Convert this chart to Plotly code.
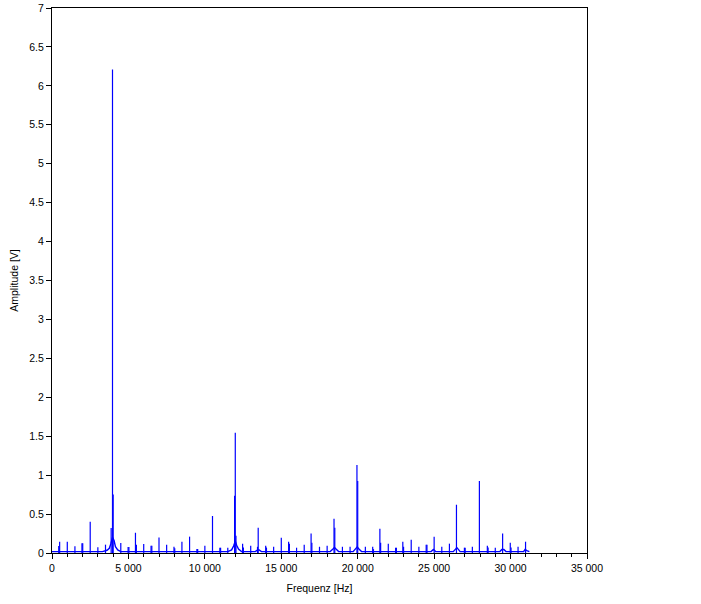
import plotly.graph_objects as go

# Spectral lines (peak frequency in Hz, peak amplitude in V)
peak_freq = [440, 500, 1000, 1500, 1960, 2010, 2500, 3000, 3500,
             3870, 3958, 4002, 4500, 4980, 5030, 5460, 5520, 6000, 6480, 6530,
             7000, 7500, 7980, 8030, 8500, 9000, 9480, 9530, 10000, 10500,
             10980, 11030, 11500, 11944, 11990, 12035, 12470, 12520, 13000,
             13445, 13490, 13980, 14030, 14500, 15000, 15480, 15530, 16000,
             16500, 16950, 17000, 17500, 18000, 18450, 18500, 19000, 19500,
             19950, 20000, 20500, 20980, 21030, 21450, 21500, 22000, 22480,
             22530, 22950, 23000, 23500, 24000, 24480, 24530, 25000, 25500,
             26000, 26460, 26980, 27030, 27500, 27960, 28480, 28530, 29000,
             29480, 29980, 30030, 30490, 30980]
peak_amp = [0.09, 0.145, 0.145, 0.086, 0.125, 0.125, 0.40, 0.073, 0.107,
            0.32, 6.21, 0.75, 0.13, 0.077, 0.077, 0.26, 0.107, 0.116, 0.094, 0.094,
            0.20, 0.107, 0.08, 0.06, 0.145, 0.21, 0.05, 0.05, 0.094, 0.475,
            0.068, 0.068, 0.068, 0.735, 1.545, 0.22, 0.12, 0.07, 0.094,
            0.08, 0.325, 0.094, 0.07, 0.08, 0.197, 0.145, 0.12, 0.068,
            0.107, 0.25, 0.133, 0.08, 0.094, 0.44, 0.325, 0.08, 0.08,
            1.13, 0.925, 0.08, 0.08, 0.05, 0.31, 0.133, 0.12, 0.068,
            0.068, 0.145, 0.08, 0.17, 0.08, 0.107, 0.107, 0.21, 0.08,
            0.12, 0.62, 0.068, 0.068, 0.08, 0.925, 0.094, 0.07, 0.068,
            0.25, 0.133, 0.07, 0.08, 0.145]

# Noise floor / broadening around the strong lines
base_freq = [0, 3300, 3600, 3750, 3850, 3958, 4060, 4150, 4300, 4500,
             11500, 11750, 11880, 11990, 12080, 12200, 12400,
             13300, 13450, 13550, 13700,
             18200, 18380, 18480, 18580, 18750,
             19700, 19850, 19970, 20080, 20250,
             24800, 24950, 25100,
             26250, 26400, 26480, 26570, 26700,
             29300, 29430, 29560, 29700,
             30850, 30950, 31060, 31230]
base_amp = [0.018, 0.018, 0.035, 0.06, 0.12, 0.2, 0.16, 0.08, 0.04, 0.018,
            0.018, 0.04, 0.09, 0.15, 0.1, 0.05, 0.018,
            0.018, 0.04, 0.04, 0.018,
            0.018, 0.05, 0.07, 0.05, 0.018,
            0.018, 0.05, 0.08, 0.05, 0.018,
            0.018, 0.045, 0.018,
            0.018, 0.05, 0.07, 0.05, 0.018,
            0.018, 0.045, 0.045, 0.018,
            0.018, 0.045, 0.03, 0.018]

x_tick_vals = [0, 5000, 10000, 15000, 20000, 25000, 30000, 35000]
x_tick_text = ["0", "5 000", "10 000", "15 000", "20 000", "25 000", "30 000", "35 000"]

BLUE = "#0000ff"
FONT = "Liberation Sans, Arial, sans-serif"

stem_x, stem_y = [], []
for f, a in zip(peak_freq, peak_amp):
    stem_x += [f, f, None]
    stem_y += [0, a, None]

fig = go.Figure()
fig.add_trace(go.Scatter(x=base_freq, y=base_amp, mode="lines",
                         line=dict(color=BLUE, width=1.4), hoverinfo="skip",
                         showlegend=False))
fig.add_trace(go.Scatter(x=stem_x, y=stem_y, mode="lines",
                         line=dict(color=BLUE, width=1.2), hoverinfo="skip",
                         showlegend=False))

axis_common = dict(showline=True, linecolor="black", linewidth=1, mirror=True,
                   showgrid=False, zeroline=False, ticks="outside",
                   tickcolor="black", tickwidth=1, automargin=False,
                   tickfont=dict(family=FONT, size=10.5, color="black"))

fig.update_layout(
    width=701, height=604,
    margin=dict(l=52, r=114, t=8, b=51),
    paper_bgcolor="white", plot_bgcolor="white",
    font=dict(family=FONT, size=10.5, color="black"),
    xaxis=dict(range=[0, 35000], tickvals=x_tick_vals, ticktext=x_tick_text,
               ticklen=5,
               minor=dict(dtick=1000, ticks="outside", ticklen=3,
                          tickcolor="black", showgrid=False),
               title=dict(text="Frequenz [Hz]", standoff=12,
                          font=dict(family=FONT, size=10.5)),
               **axis_common),
    yaxis=dict(range=[0, 7], dtick=0.5, ticklen=5,
               title=dict(text="Amplitude [V]", standoff=8,
                          font=dict(family=FONT, size=10.5)),
               **axis_common),
)

fig.write_html("out.html", config={"displayModeBar": False},
               post_script="document.body.style.margin='0';")
